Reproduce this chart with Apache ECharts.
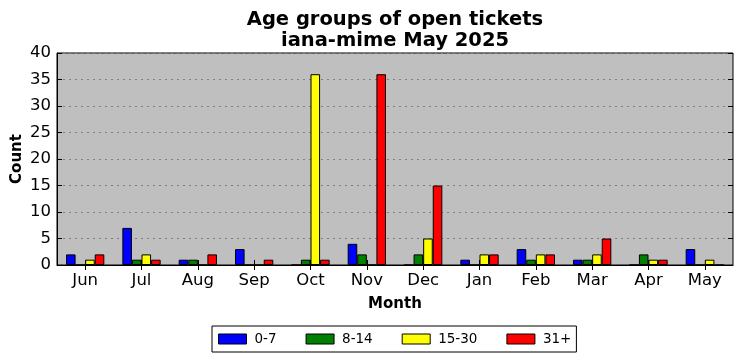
<!DOCTYPE html>
<html>
<head>
<meta charset="utf-8">
<script src="https://cdn.jsdelivr.net/npm/echarts@6/dist/echarts.min.js"></script>
<style>html,body{margin:0;padding:0;background:#fff;}#c{width:742px;height:361px;}</style>
</head>
<body>
<div id="c"></div>
<script>
const months = ['Jun','Jul','Aug','Sep','Oct','Nov','Dec','Jan','Feb','Mar','Apr','May'];
const age0to7   = [2,7,1,3,0,4,0,1,3,1,0,3];
const age8to14  = [0,1,1,0,1,2,2,0,1,1,2,0];
const age15to30 = [1,2,0,0,36,0,5,2,2,2,1,1];
const age31plus = [2,1,2,1,1,36,15,2,2,5,1,0];
const seriesNames = ['0-7','8-14','15-30','31+'];
const seriesColors = ['#0000ff','#008000','#ffff00','#ff0000'];
const yTicks = [0,5,10,15,20,25,30,35,40];

const font = 'DejaVu Sans';
const chart = echarts.init(document.getElementById('c'), null, {renderer:'canvas'});
const data = [age0to7, age8to14, age15to30, age31plus];
const series = data.map((d,i)=>({
  name: seriesNames[i], type:'bar', data:d, xAxisIndex:0, yAxisIndex:0,
  barGap:'0%', barCategoryGap:'32%',
  itemStyle:{color:seriesColors[i], borderColor:'#000', borderWidth:1},
  emphasis:{disabled:true}, animation:false
}));
chart.setOption({
  animation:false,
  title:{
    text:'Age groups of open tickets\niana-mime May 2025',
    left:390, top:5, textAlign:'center',
    textStyle:{fontFamily:font, fontWeight:'bold', fontSize:19.5, lineHeight:20.5, color:'#000'}
  },
  legend:{
    data:seriesNames, left:212, top:326, orient:'horizontal',
    itemWidth:28, itemHeight:10, itemGap:29,
    padding:[6,5,6,6], borderColor:'#000', borderWidth:1,
    icon:'rect',
    itemStyle:{borderColor:'#000', borderWidth:1},
    textStyle:{fontFamily:font, fontSize:13.5, color:'#000', padding:[0,0,0,3]}
  },
  grid:{left:57, right:9, top:53, bottom:96, show:true, backgroundColor:'#bfbfbf', borderColor:'#000', borderWidth:1, containLabel:false, outerBoundsMode:'none'},
  xAxis:[{
    type:'category', data:months, position:'bottom',
    name:'Month', nameLocation:'middle', nameGap:32, nameMoveOverlap:false,
    nameTextStyle:{fontFamily:font, fontWeight:'bold', fontSize:15, color:'#000'},
    axisLine:{show:true, lineStyle:{color:'#000'}},
    axisTick:{show:true, inside:true, alignWithLabel:true, length:5, lineStyle:{color:'#000'}},
    axisLabel:{fontFamily:font, fontSize:16.5, color:'#000', margin:7},
    splitLine:{show:false}
  },{
    type:'category', data:months, position:'top',
    axisLine:{show:false},
    axisTick:{show:true, inside:true, alignWithLabel:true, length:5, lineStyle:{color:'#000'}},
    axisLabel:{show:false}, splitLine:{show:false}
  }],
  yAxis:[{
    type:'value', min:0, max:40, interval:5,
    name:'Count', nameLocation:'middle', nameGap:32, nameRotate:90, nameMoveOverlap:false,
    nameTextStyle:{fontFamily:font, fontWeight:'bold', fontSize:15, color:'#000'},
    axisLine:{show:true, lineStyle:{color:'#000'}},
    axisTick:{show:true, inside:true, length:5, lineStyle:{color:'#000'}},
    axisLabel:{fontFamily:font, fontSize:16.5, color:'#000', margin:6,
      formatter:v=>yTicks.includes(v)?String(v):''},
    splitLine:{show:true, lineStyle:{color:'#808080', type:[2,4], width:1}}
  },{
    type:'value', min:0, max:40, interval:5, position:'right',
    axisLine:{show:false},
    axisTick:{show:true, inside:true, length:5, lineStyle:{color:'#000'}},
    axisLabel:{show:false}, splitLine:{show:false}
  }],
  series: series
});
</script>
</body>
</html>
